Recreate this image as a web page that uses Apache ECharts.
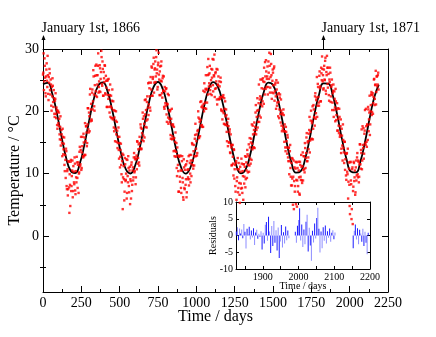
<!DOCTYPE html>
<html>
<head>
<meta charset="utf-8">
<script src="https://cdn.jsdelivr.net/npm/echarts@6/dist/echarts.min.js"></script>
<style>
  html, body { margin: 0; padding: 0; background: #fff; }
  #chart { width: 436px; height: 337px; }
</style>
</head>
<body>
<div id="chart"></div>
<script>
// daily temperature, sampled every 4 days from day 0 ...
const tempStep = 4;
const temps1866 = [
  25.9, 29.3, 24.8, 27.3, 22.9, 25.6, 27.7, 23.9, 25.8, 21.8,
  24.6, 26.1, 22.7, 24.3, 20.1, 22.4, 24.1, 20.7, 22.1, 19.1,
  22.0, 19.6, 20.6, 17.8, 19.9, 18.1, 19.8, 16.3, 17.5, 14.5,
  17.0, 14.9, 17.2, 13.1, 14.8, 11.4, 13.0, 9.3, 13.6, 7.5,
  10.7, 7.5, 11.9, 3.7, 8.2, 11.9, 7.2, 9.6, 12.1, 7.2,
  10.3, 8.3, 11.6, 6.7, 9.4, 12.7, 9.3, 11.4, 6.9, 10.2,
  14.3, 11.5, 15.9, 10.9, 14.4, 12.8, 16.4, 12.8, 15.8, 13.0,
  17.6, 16.6, 14.9, 20.5, 17.1, 19.8, 16.8, 23.6, 20.3, 18.7,
  23.0, 20.3, 26.6, 22.7, 20.1, 25.7, 23.2, 27.5, 22.3, 25.8,
  29.3, 23.9
];
const temps1867 = [
  23.2, 26.9, 25.2, 29.7, 24.4, 28.0, 22.5, 26.3, 24.7, 27.3,
  22.7, 24.9, 20.7, 24.9, 22.6, 25.2, 20.7, 22.6, 19.1, 22.5,
  20.5, 23.5, 18.7, 20.2, 16.8, 20.1, 17.2, 20.0, 15.1, 16.9,
  14.9, 17.4, 12.4, 14.9, 12.7, 14.8, 9.9, 12.0, 4.3, 13.0,
  9.1, 7.1, 11.5, 9.0, 12.3, 6.9, 9.6, 12.8, 8.0, 10.5,
  5.1, 8.8, 11.4, 7.2, 10.5, 8.9, 12.6, 10.2, 12.3, 8.3,
  12.3, 10.7, 15.1, 12.5, 14.7, 11.3, 14.9, 17.9, 13.9, 17.2,
  15.4, 18.8, 15.2, 18.0, 21.8, 17.5, 20.2, 17.4, 22.4, 20.6,
  19.4, 24.6, 22.4, 20.1, 24.6, 27.2, 22.5, 25.2, 27.6, 23.0,
  26.7
];
const temps1868 = [
  28.0, 25.6, 29.8, 26.7, 23.9, 27.8, 25.9, 22.6, 27.2, 24.9,
  28.0, 22.9, 25.3, 23.3, 25.6, 20.4, 23.2, 20.9, 23.7, 18.3,
  21.1, 19.0, 22.6, 18.8, 20.0, 16.2, 18.8, 20.4, 16.0, 17.9,
  13.6, 15.7, 13.7, 16.6, 13.5, 10.9, 14.2, 11.4, 7.1, 12.7,
  9.5, 12.9, 7.7, 10.5, 12.8, 8.6, 5.8, 11.0, 7.5, 11.3,
  9.1, 6.2, 12.0, 9.1, 10.7, 8.1, 13.0, 10.0, 12.1, 9.6,
  14.9, 12.1, 10.8, 14.6, 12.8, 16.2, 12.8, 15.2, 12.9, 16.8,
  20.0, 15.8, 18.8, 16.0, 18.6, 21.6, 17.8, 20.9, 17.5, 21.2,
  24.5, 20.5, 23.6, 20.4, 23.6, 27.1, 22.7, 25.9, 24.5, 27.3,
  22.8
];
const temps1869 = [
  25.0, 22.6, 26.7, 24.2, 28.3, 25.6, 22.3, 26.1, 23.7, 26.8,
  21.1, 24.3, 25.6, 21.9, 24.0, 22.0, 24.7, 20.1, 22.3, 20.0,
  22.6, 18.0, 20.4, 21.6, 17.8, 19.4, 15.2, 17.7, 18.8, 15.0,
  16.7, 13.4, 16.3, 14.2, 11.4, 14.6, 11.6, 13.9, 9.2, 11.4,
  7.1, 12.0, 8.8, 10.7, 7.0, 11.7, 8.5, 5.3, 10.3, 7.6,
  11.6, 6.9, 9.6, 11.5, 8.4, 11.1, 7.8, 12.7, 10.5, 13.8,
  10.2, 12.8, 10.3, 15.7, 12.4, 15.0, 12.2, 14.8, 17.7, 14.2,
  17.0, 14.1, 17.5, 21.0, 17.0, 20.1, 17.4, 20.2, 24.3, 19.3,
  22.4, 19.0, 22.1, 25.1, 21.6, 24.8, 21.2, 24.7, 27.9, 23.6,
  26.4, 25.2
];
const temps1870 = [
  27.2, 23.9, 26.2, 29.4, 23.0, 25.5, 27.6, 22.0, 24.9, 26.2,
  22.9, 27.2, 23.2, 24.6, 20.4, 23.5, 21.4, 24.6, 21.5, 18.9,
  22.2, 19.6, 21.9, 17.7, 19.5, 17.1, 20.3, 16.8, 17.9, 14.2,
  17.5, 15.2, 13.2, 15.8, 12.0, 14.2, 12.0, 14.6, 9.5, 11.7,
  8.1, 12.4, 9.5, 4.3, 11.0, 8.0, 11.9, 9.0, 4.7, 10.9,
  8.0, 10.5, 6.8, 11.9, 9.5, 13.0, 8.9, 11.2, 8.9, 12.8,
  10.7, 14.9, 10.9, 13.3, 16.5, 12.0, 15.2, 13.9, 17.0, 13.4,
  16.7, 20.1, 15.6, 18.4, 15.5, 21.0, 19.1, 17.7, 22.9, 19.7,
  22.2, 19.1, 24.4, 22.3, 20.9, 26.4, 24.0, 21.6, 26.1, 28.8,
  24.8
];
const temps1871 = [
  23.5, 26.7, 25.1, 28.1, 23.3, 26.3, 28.9, 24.4, 27.0, 22.6,
  25.1, 27.0, 21.5, 23.9, 25.1, 21.4, 23.3, 19.1, 23.2, 20.6,
  23.6, 18.6, 20.3, 16.9, 20.5, 17.7, 20.4, 15.9, 17.6, 13.3,
  17.2, 14.5, 17.9, 14.1, 11.7, 15.1, 12.3, 9.7, 13.2, 10.3,
  14.0, 8.7, 10.8, 4.8, 11.8, 8.9, 2.7, 10.7, 1.9, 7.9,
  11.7, 9.4, 6.6, 11.0, 8.9, 12.6, 9.9, 12.1, 8.6, 11.5,
  14.7, 10.8, 13.3, 10.7, 17.6, 14.1, 12.4, 16.4, 20.2, 14.6,
  17.6, 14.3, 17.8, 20.7, 16.8, 19.8, 16.2, 20.0, 22.7, 19.4,
  22.6, 19.6, 22.3, 25.2, 22.0, 24.3, 21.1, 25.6, 24.0, 25.8,
  23.5
];

// ... and the days in between (every 4 days from day 2)
const midStart = 2;
const mid1866 = [
  26.2, 23.4, 28.5, 25.4, 22.4, 26.7, 24.9, 28.9, 22.8, 25.5,
  26.8, 23.4, 25.1, 20.9, 23.9, 25.3, 21.5, 23.4, 19.6, 21.7,
  22.9, 18.9, 20.2, 17.2, 20.1, 17.7, 18.8, 15.5, 19.2, 15.4,
  16.3, 12.8, 15.9, 13.9, 15.8, 10.4, 12.2, 14.0, 8.0, 10.4,
  6.5, 12.0, 7.8, 9.9, 4.8, 12.2, 8.0, 10.5, 6.2, 11.2,
  8.6, 12.6, 7.3, 10.4, 8.6, 11.8, 7.7, 11.8, 10.0, 13.5,
  11.2, 13.8, 10.6, 13.4, 15.9, 12.6, 15.0, 13.0, 18.1, 15.2,
  17.6, 14.4, 17.9, 20.5, 16.6, 19.2, 22.7, 18.4, 21.2, 18.5,
  23.5, 21.6, 25.6, 20.8, 24.2, 27.3, 22.5, 25.8, 24.3, 27.3,
  23.0
];
const mid1867 = [
  24.8, 27.4, 23.1, 26.3, 28.7, 24.1, 26.8, 22.5, 25.3, 27.4,
  22.9, 25.7, 23.8, 20.7, 25.1, 22.0, 23.4, 19.8, 24.3, 20.8,
  18.9, 21.7, 18.9, 21.6, 17.4, 19.0, 15.2, 18.5, 16.3, 18.3,
  14.1, 15.9, 13.8, 15.9, 11.0, 13.8, 11.4, 8.6, 13.2, 9.4,
  11.2, 5.7, 12.5, 8.8, 10.0, 6.0, 12.2, 8.6, 10.9, 7.0,
  11.1, 9.1, 6.0, 11.8, 8.2, 11.0, 9.4, 13.3, 10.4, 12.6,
  9.4, 12.9, 15.2, 11.6, 13.9, 11.8, 15.9, 14.1, 17.4, 14.0,
  16.5, 19.8, 16.1, 19.2, 15.8, 19.5, 21.9, 18.5, 21.5, 18.7,
  24.5, 21.1, 23.7, 20.6, 25.5, 23.5, 27.0, 22.5, 25.5, 28.6,
  24.6
];
const mid1868 = [
  26.9, 24.7, 28.7, 26.1, 23.5, 27.4, 29.4, 25.1, 26.4, 22.6,
  27.3, 24.8, 22.2, 25.7, 23.3, 20.7, 23.9, 21.3, 23.6, 19.5,
  21.2, 22.8, 18.0, 20.2, 18.3, 20.2, 15.6, 17.9, 15.5, 17.7,
  15.6, 17.5, 12.8, 15.1, 12.7, 14.9, 9.6, 12.9, 10.4, 7.1,
  12.8, 8.7, 10.5, 6.9, 12.0, 9.3, 6.2, 12.3, 7.7, 10.6,
  8.2, 11.5, 7.0, 10.6, 9.4, 12.8, 9.1, 11.7, 8.6, 13.0,
  11.5, 14.7, 11.3, 13.6, 11.3, 15.6, 18.0, 14.0, 16.3, 13.3,
  17.0, 19.0, 15.7, 18.3, 21.5, 17.7, 20.7, 17.5, 20.5, 23.3,
  20.0, 23.1, 21.4, 25.8, 23.4, 21.4, 25.8, 28.4, 24.0, 26.1,
  23.4
];
const mid1869 = [
  24.0, 26.8, 25.4, 28.4, 23.2, 25.8, 29.1, 23.6, 26.3, 24.8,
  21.9, 26.7, 24.2, 22.0, 24.8, 22.3, 25.4, 20.3, 22.3, 18.7,
  22.3, 19.7, 22.1, 17.9, 19.2, 20.3, 16.7, 18.2, 14.4, 17.6,
  15.0, 17.1, 13.3, 14.6, 11.3, 14.6, 12.7, 9.7, 13.8, 10.7,
  8.0, 11.7, 5.8, 9.4, 12.5, 7.7, 10.7, 6.6, 11.1, 8.4,
  12.4, 7.7, 10.4, 5.8, 11.5, 9.5, 12.8, 9.1, 11.8, 9.3,
  13.1, 11.4, 14.7, 11.3, 14.2, 11.6, 15.6, 17.9, 13.9, 16.3,
  14.2, 18.2, 16.5, 19.8, 16.3, 19.1, 22.1, 18.3, 21.3, 18.3,
  21.9, 25.1, 21.1, 23.7, 20.8, 25.3, 23.6, 27.0, 22.7, 25.6,
  28.2, 23.9
];
const mid1870 = [
  25.6, 22.7, 28.0, 25.2, 27.3, 23.8, 29.2, 25.8, 23.0, 26.7,
  24.2, 26.9, 21.7, 24.3, 22.4, 25.0, 20.9, 22.7, 19.2, 22.9,
  20.3, 22.7, 18.2, 20.1, 16.8, 19.7, 17.5, 19.4, 15.1, 16.8,
  13.6, 16.7, 14.2, 16.2, 12.6, 14.1, 9.9, 13.6, 10.9, 8.1,
  12.5, 9.2, 5.0, 12.1, 8.8, 7.1, 10.8, 5.1, 11.8, 8.9,
  7.1, 11.9, 9.4, 6.6, 11.4, 9.0, 11.1, 8.5, 13.4, 10.6,
  12.8, 10.2, 14.1, 12.5, 15.8, 12.0, 15.0, 12.6, 16.4, 19.1,
  15.3, 18.5, 15.5, 18.1, 20.8, 17.2, 20.3, 19.0, 22.4, 18.8,
  21.8, 25.5, 20.9, 23.9, 21.4, 25.7, 23.7, 21.6, 27.0, 25.0,
  26.8
];
const mid1871 = [
  25.8, 23.7, 27.3, 25.0, 28.6, 22.8, 25.8, 27.0, 23.8, 26.0,
  21.7, 24.7, 26.2, 22.4, 24.2, 20.2, 22.9, 24.3, 20.2, 22.0,
  18.4, 21.6, 19.4, 21.3, 16.9, 18.8, 16.5, 19.1, 16.2, 18.7,
  14.0, 16.1, 12.1, 15.4, 13.4, 15.1, 10.6, 13.2, 9.0, 13.3,
  9.9, 6.0, 11.8, 8.2, 3.5, 11.9, 8.3, 4.3, 11.0, 7.2,
  11.9, 8.8, 10.5, 7.0, 12.1, 9.7, 13.3, 9.4, 11.9, 9.5,
  14.7, 11.5, 13.8, 17.1, 12.1, 14.6, 17.3, 13.2, 16.9, 14.9,
  20.4, 15.1, 17.9, 15.4, 20.3, 18.7, 22.5, 17.9, 21.0, 23.1,
  19.9, 22.9, 21.3, 25.1, 21.0, 24.2, 26.5, 23.1, 25.6, 24.3,
  26.2
];

// fitted curve, read every 30 days
const fitStep = 30;
const fitTemps = [
  24.35, 24.55, 22.86, 19.75, 16.01, 12.62, 10.46, 10.10, 11.62, 14.65, 18.37, 21.84, 24.13,
  24.65, 23.28, 20.36, 16.66, 13.15, 10.71, 10.02, 11.23, 14.04, 17.71, 21.28, 23.83,
  24.70, 23.64, 20.96, 17.33, 13.70, 11.03, 10.00, 10.89, 13.45, 17.04, 20.71, 23.50,
  24.68, 23.96, 21.51, 17.99, 14.29, 11.39, 10.04, 10.60, 12.92, 16.39, 20.10, 23.11,
  24.61, 24.22, 22.05, 18.64, 14.90, 11.80, 10.15, 10.37, 12.40, 15.73, 19.49, 22.67,
  24.48, 24.43, 22.52, 19.29, 15.53, 12.26, 10.31, 10.19, 11.94, 15.09, 18.84, 22.20, 24.29
];

// residuals for the last year, every 3 days from day 1826 (null = no data)
const resStart = 1826;
const resStep = 3;
const residuals = [
  1.2, 2.5, -1.4, 2.1, 0.6, 1.8, -0.8, 3.4, 1.1, -3.9,
  2.0, 0.4, 2.6, -1.2, 1.5, -0.6, 2.2, -2.8, 0.9, 1.7,
  -1.0, 0.5, -0.4, 1.3, -4.2, 0.8, -2.4, 3.2, 4.0, -1.6,
  5.6, 1.2, -5.2, 2.8, -3.1, 4.3, -2.2, 1.6, -4.5, 2.4,
  -6.7, -1.8, 3.1, -3.6, 1.0, -2.4, 2.7, -1.4, 1.5, -0.8,
  null, null, null, null, null,
  1.1, -2.2, 2.9, 4.6, 8.1, -1.5, 3.3, -3.4, 1.8, -2.6,
  4.1, 6.2, -4.8, 2.3, -3.0, -7.5, 1.4, -2.1, 3.6, -0.9,
  5.2, 8.3, 2.0, -5.1, 1.2, -3.8, 2.5, -1.6, 3.0, -2.4,
  1.3, -0.7, 2.1, -1.9, 0.8, 1.6, -1.1, 0.9,
  null, null, null, null, null, null, null, null,
  null, null, null, null, null, null, null, null,
  -3.8, 1.4, 3.3, -1.2, 2.2, -2.6, 1.7, 0.6, -1.9, 2.0,
  -3.1, 1.1, -2.2, -5.6, 0.8
];

// annotations
const markDays = [0, 1826];
const markTexts = ['January 1st, 1866', 'January 1st, 1871'];

// tick labels
const yMajor = [0, 10, 20, 30];
const yMinor = [-5, 5, 15, 25];
const insetXTicks = [1850, 1900, 1950, 2000, 2050, 2100, 2150, 2200];
const insetXLabels = [1900, 2000, 2100, 2200];

const FONT = 'Liberation Serif';

let allTemps = temps1866.concat(temps1867, temps1868, temps1869, temps1870, temps1871);
let allMid = mid1866.concat(mid1867, mid1868, mid1869, mid1870, mid1871);
let points = allTemps.map((t, i) => [i * tempStep, t]);
allMid.forEach((t, i) => points.push([midStart + i * tempStep, t]));
let fitLine = fitTemps.map((t, i) => [i * fitStep, t]);
let resBars = [];
residuals.forEach((r, i) => {
  if (r !== null) resBars.push([resStart + i * resStep, r]);
});

function plain(v) { return String(v); }

function frameAxis(opt) {
  return Object.assign({
    type: 'value',
    nameMoveOverlap: false,
    axisLine: { show: true, onZero: false, lineStyle: { color: '#000', width: 1 } },
    splitLine: { show: false },
    axisLabel: { show: false },
    axisTick: { show: false }
  }, opt);
}

let chart = echarts.init(document.getElementById('chart'));

let option = {
  animation: false,
  backgroundColor: '#fff',
  textStyle: { fontFamily: FONT, color: '#000' },
  grid: [
    { left: 43, top: 49, right: 48, bottom: 45, outerBoundsMode: 'none', containLabel: false },
    { left: 236, top: 202, right: 66, bottom: 68, outerBoundsMode: 'none', containLabel: false }
  ],
  xAxis: [
    frameAxis({
      gridIndex: 0, position: 'bottom', min: 0, max: 2250, interval: 250,
      name: 'Time / days', nameLocation: 'middle', nameGap: 17,
      nameTextStyle: { fontFamily: FONT, fontSize: 16, color: '#000' },
      axisLabel: { show: true, margin: 4, fontFamily: FONT, fontSize: 14, color: '#000', formatter: plain },
      axisTick: { show: true, inside: true, length: 6, lineStyle: { color: '#000' } },
      minorTick: { show: true, splitNumber: 2, length: 3, lineStyle: { color: '#000' } }
    }),
    frameAxis({
      gridIndex: 0, position: 'top', min: 0, max: 2250, interval: 250,
      axisTick: { show: true, inside: true, length: 6, lineStyle: { color: '#000' } },
      minorTick: { show: true, splitNumber: 2, length: 3, lineStyle: { color: '#000' } }
    }),
    frameAxis({
      gridIndex: 1, position: 'bottom', min: 1825, max: 2200,
      name: 'Time / days', nameLocation: 'middle', nameGap: 12,
      nameTextStyle: { fontFamily: FONT, fontSize: 10, color: '#000' },
      axisLabel: { show: true, margin: 3, fontFamily: FONT, fontSize: 10, color: '#000', customValues: insetXLabels, formatter: plain },
      axisTick: { show: true, inside: true, length: 3, customValues: insetXTicks, lineStyle: { color: '#000' } }
    }),
    frameAxis({
      gridIndex: 1, position: 'top', min: 1825, max: 2200,
      axisTick: { show: true, inside: true, length: 3, customValues: insetXTicks, lineStyle: { color: '#000' } }
    })
  ],
  yAxis: [
    frameAxis({
      gridIndex: 0, position: 'left', min: -9, max: 30,
      name: 'Temperature / °C', nameLocation: 'middle', nameGap: 20,
      nameTextStyle: { fontFamily: FONT, fontSize: 16, color: '#000' },
      axisLabel: { show: true, margin: 4, fontFamily: FONT, fontSize: 14, color: '#000', customValues: yMajor },
      axisTick: { show: true, inside: true, length: 6, customValues: yMajor, lineStyle: { color: '#000' } }
    }),
    frameAxis({
      gridIndex: 0, position: 'left', min: -9, max: 30,
      axisLine: { show: false },
      axisTick: { show: true, inside: true, length: 3, customValues: yMinor, lineStyle: { color: '#000' } }
    }),
    frameAxis({
      gridIndex: 0, position: 'right', min: -9, max: 30,
      axisTick: { show: true, inside: true, length: 6, customValues: yMajor, lineStyle: { color: '#000' } }
    }),
    frameAxis({
      gridIndex: 0, position: 'right', min: -9, max: 30,
      axisLine: { show: false },
      axisTick: { show: true, inside: true, length: 3, customValues: yMinor, lineStyle: { color: '#000' } }
    }),
    frameAxis({
      gridIndex: 1, position: 'left', min: -10, max: 10, interval: 5,
      name: 'Residuals', nameLocation: 'middle', nameGap: 18,
      nameTextStyle: { fontFamily: FONT, fontSize: 10, color: '#000' },
      axisLabel: { show: true, margin: 3, fontFamily: FONT, fontSize: 10, color: '#000' },
      axisTick: { show: true, inside: true, length: 3, lineStyle: { color: '#000' } }
    }),
    frameAxis({
      gridIndex: 1, position: 'right', min: -10, max: 10, interval: 5,
      axisTick: { show: true, inside: true, length: 3, lineStyle: { color: '#000' } }
    })
  ],
  series: [
    {
      type: 'bar',
      xAxisIndex: 2,
      yAxisIndex: 4,
      barWidth: 1,
      data: resBars,
      itemStyle: {
        color: function (p) { return p.dataIndex % 2 ? '#8c8cff' : '#1a1aff'; }
      },
      z: 2
    },
    {
      type: 'line',
      xAxisIndex: 0,
      yAxisIndex: 0,
      data: fitLine,
      smooth: true,
      showSymbol: false,
      lineStyle: { color: '#000', width: 1.8 },
      z: 3
    },
    {
      type: 'scatter',
      xAxisIndex: 0,
      yAxisIndex: 0,
      data: points,
      symbol: 'rect',
      symbolSize: 2.4,
      itemStyle: { color: '#ff0000' },
      z: 4
    }
  ]
};
chart.setOption(option);

// arrows and dates above the top axis
let graphics = [];
markDays.forEach((d, i) => {
  let x = Math.round(chart.convertToPixel({ xAxisIndex: 0 }, d)) + 0.5;
  graphics.push({
    type: 'line',
    shape: { x1: x, y1: 49, x2: x, y2: 38 },
    style: { stroke: '#000', lineWidth: 1 }
  });
  graphics.push({
    type: 'polygon',
    shape: { points: [[x, 35], [x - 2, 40], [x + 2, 40]] },
    style: { fill: '#000' }
  });
  graphics.push({
    type: 'text',
    style: {
      text: markTexts[i], x: x - 2, y: 28.5,
      font: '14px "' + FONT + '"', fill: '#000',
      align: 'left', verticalAlign: 'middle'
    }
  });
});
chart.setOption({ graphic: graphics });
</script>
</body>
</html>
